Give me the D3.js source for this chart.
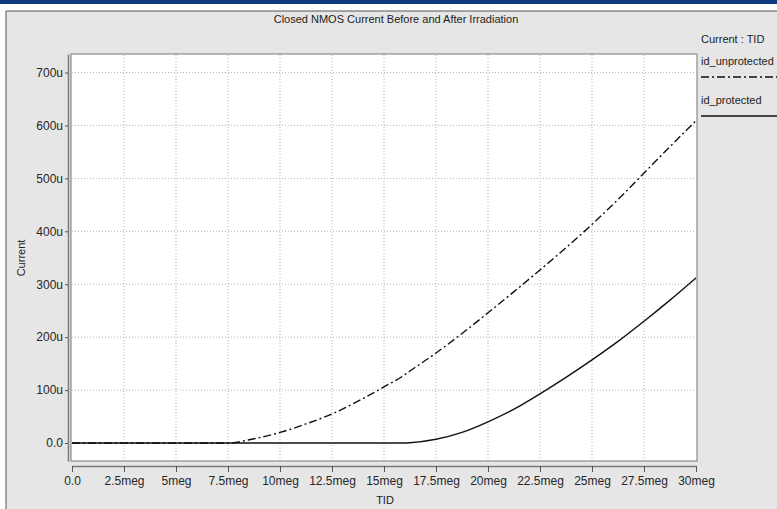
<!DOCTYPE html>
<html>
<head>
<meta charset="utf-8">
<script src="https://cdn.jsdelivr.net/npm/d3@7"></script>
<style>
  body { margin: 0; background: #fff; }
  svg { display: block; font-family: "Liberation Sans", Arial, sans-serif; }
</style>
</head>
<body>
<div id="canvas"></div>
<script>
// TID in meg, current in u (micro amps)
const tid = [0, 1.25, 2.5, 3.75, 5, 6.25, 7.5, 8.75, 10, 11.25, 12.5, 13.75, 15, 16, 16.25, 17.5, 18.75, 20, 21.25, 22.5, 23.75, 25, 26.25, 27.5, 28.75, 30];
const idUnprotected = [0, 0, 0, 0, 0, 0, 0, 8, 20, 36, 55, 79, 106, 129, 136, 170, 207, 246, 286, 327, 369, 413, 460, 510, 560, 609];
const idProtected = [0, 0, 0, 0, 0, 0, 0, 0, 0, 0, 0, 0, 0, 0, 0.5, 7, 20, 40, 64, 93, 124, 157, 192, 230, 270, 312];

const xTicks = [0, 2.5, 5, 7.5, 10, 12.5, 15, 17.5, 20, 22.5, 25, 27.5, 30];
const xTickLabels = ["0.0", "2.5meg", "5meg", "7.5meg", "10meg", "12.5meg", "15meg", "17.5meg", "20meg", "22.5meg", "25meg", "27.5meg", "30meg"];
const yTicks = [0, 100, 200, 300, 400, 500, 600, 700];
const yTickLabels = ["0.0", "100u", "200u", "300u", "400u", "500u", "600u", "700u"];

const seriesNames = ["id_unprotected", "id_protected"];

const width = 777;
const height = 509;
const margin = { top: 54, left: 72, bottom: 48, right: 81 };

const svg = d3.select("#canvas").append("svg")
    .attr("width", width)
    .attr("height", height);

// header band + panel
svg.append("rect").attr("x", 0).attr("y", 0).attr("width", width).attr("height", 4).attr("fill", "#0d3b7d");
svg.append("rect").attr("x", 6).attr("y", 11).attr("width", width).attr("height", height)
    .attr("fill", "#e6e6e6").attr("stroke", "#555").attr("stroke-width", 1);

const x = d3.scaleLinear().domain([0, 30]).range([margin.left, width - margin.right]);
const y = d3.scaleLinear().domain([-34, 735]).range([height - margin.bottom, margin.top]);

// plot area
const px0 = x(0) - 1, px1 = x(30) + 1;
const py0 = y(735), py1 = y(-34);
svg.append("rect")
    .attr("x", px0).attr("y", py0)
    .attr("width", px1 - px0).attr("height", py1 - py0)
    .attr("fill", "#fff").attr("stroke", "#8a8a8a").attr("stroke-width", 1.2);

// grid
const grid = svg.append("g").attr("stroke", "#b4b4b4").attr("stroke-width", 1).attr("stroke-dasharray", "1,2");
grid.selectAll(".vx").data(xTicks.slice(1, -1)).enter().append("line")
    .attr("x1", d => x(d)).attr("x2", d => x(d))
    .attr("y1", py0 + 1).attr("y2", py1 - 1);
grid.selectAll(".hy").data(yTicks.slice(1)).enter().append("line")
    .attr("x1", px0 + 1).attr("x2", px1 - 1)
    .attr("y1", d => y(d)).attr("y2", d => y(d));

// axes
const xAxis = svg.append("g")
    .attr("transform", `translate(0, ${py1 + 5})`)
    .call(d3.axisBottom(x).tickValues(xTicks).tickSize(6).tickSizeOuter(0)
        .tickFormat((d, i) => xTickLabels[i]));
const yAxis = svg.append("g")
    .attr("transform", `translate(${px0 - 3}, 0)`)
    .call(d3.axisLeft(y).tickValues(yTicks).tickSize(3).tickSizeOuter(0)
        .tickFormat((d, i) => yTickLabels[i]));

[xAxis, yAxis].forEach(a => {
    a.select(".domain").attr("stroke", "#7a7a7a").attr("stroke-width", 1.5);
    a.selectAll(".tick line").attr("stroke", "#555");
    a.selectAll(".tick text").attr("fill", "#262626").style("font-size", "12px")
        .style("font-family", "Liberation Sans, Arial, sans-serif");
});
xAxis.selectAll(".tick text").attr("dy", "0.9em").attr("y", 8);
yAxis.selectAll(".tick text").attr("x", -5);

// lines
const pts = (vals) => tid.map((t, i) => [t, vals[i]]);
const line = d3.line().x(d => x(d[0])).y(d => y(d[1])).curve(d3.curveMonotoneX);

svg.append("path").datum(pts(idProtected))
    .attr("d", line).attr("fill", "none")
    .attr("stroke", "#111").attr("stroke-width", 1.4);
svg.append("path").datum(pts(idUnprotected))
    .attr("d", line).attr("fill", "none")
    .attr("stroke", "#111").attr("stroke-width", 1.4)
    .attr("stroke-dasharray", "8,3,2,3");

// texts
svg.append("text").attr("x", 396).attr("y", 23).attr("text-anchor", "middle")
    .attr("fill", "#222").style("font-size", "11px")
    .text("Closed NMOS Current Before and After Irradiation");
svg.append("text").attr("x", 385).attr("y", 504).attr("text-anchor", "middle")
    .attr("fill", "#222").style("font-size", "11px").text("TID");
svg.append("text").attr("transform", "translate(25, 258) rotate(-90)").attr("text-anchor", "middle")
    .attr("fill", "#222").style("font-size", "11px").text("Current");

// legend
const lg = svg.append("g").attr("transform", "translate(701, 0)");
lg.append("text").attr("x", 0).attr("y", 43).attr("fill", "#222").style("font-size", "11px").text("Current : TID");
const legendY = [65, 104];
seriesNames.forEach((name, i) => {
    lg.append("text").attr("x", 0).attr("y", legendY[i]).attr("fill", "#222").style("font-size", "11px").text(name);
    lg.append("line").attr("x1", 0).attr("x2", 80)
        .attr("y1", legendY[i] + 12).attr("y2", legendY[i] + 12)
        .attr("stroke", "#111").attr("stroke-width", 1.4)
        .attr("stroke-dasharray", i === 0 ? "8,3,2,3" : null);
});
</script>
</body>
</html>
